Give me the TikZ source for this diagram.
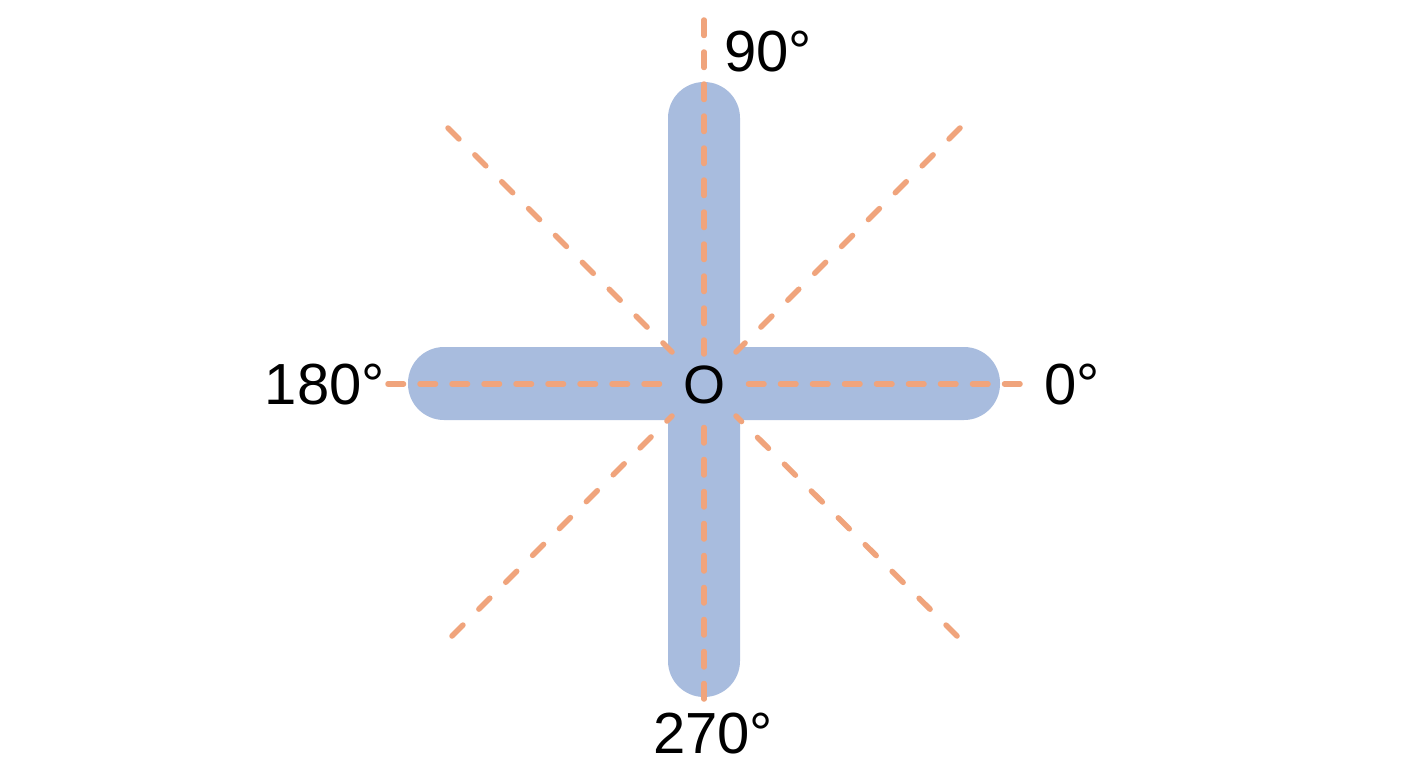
\documentclass[tikz,border=0pt]{standalone}
\usepackage{fontspec}
\setmainfont{Liberation Sans}
\definecolor{barblue}{HTML}{A8BCDE}
\definecolor{rayorange}{HTML}{F0A47C}
\begin{document}
\begin{tikzpicture}[x=1pt,y=-1pt,
  ray/.style={draw=rayorange, line width=5.5pt, line cap=round, dash pattern=on 15.5pt off 16.5pt},
  diagray/.style={ray, dash pattern=on 15.5pt off 22.5pt},
  bar/.style={fill=barblue, rounded corners=36pt},
  lbl/.style={inner sep=0pt, font=\fontsize{58}{70}\selectfont},
  olbl/.style={inner sep=0pt, font=\fontsize{54}{64}\selectfont}]
\useasboundingbox (0,0) rectangle (1408,768);
\fill[white] (0,0) rectangle (1408,768);
% bars
\path[bar] (668,82) rectangle (740,697);
\path[bar] (408,347) rectangle (1000,420);
% coordinates
\coordinate (c) at (704,384);
\coordinate (top) at (704,20);
\coordinate (topin) at (704,354);
\coordinate (bot) at (704,699);
\coordinate (botin) at (704,414);
\coordinate (lft) at (388,384);
\coordinate (lftin) at (674,384);
\coordinate (rgt) at (1020,384);
\coordinate (rgtin) at (734,384);
\coordinate (ul) at (448,128);
\coordinate (ulin) at (672,352);
\coordinate (ur) at (960,128);
\coordinate (urin) at (736,352);
\coordinate (ll) at (452,636);
\coordinate (llin) at (672,416);
\coordinate (lr) at (957,636);
\coordinate (lrin) at (736,416);
% rays
\draw[ray] (top) -- (topin);
\draw[ray] (bot) -- (botin);
\draw[ray] (lft) -- (lftin);
\draw[ray] (rgt) -- (rgtin);
\draw[diagray] (ul) -- (ulin);
\draw[diagray] (ur) -- (urin);
\draw[diagray] (ll) -- (llin);
\draw[diagray] (lr) -- (lrin);
% labels
\node[olbl, anchor=base] (o) at (704,403) {O};
\node[lbl, anchor=base west] (d90) at (724,71) {90°};
\node[lbl, anchor=base east] (d180) at (385,404) {180°};
\node[lbl, anchor=base west] (d0) at (1044,404) {0°};
\node[lbl, anchor=base] (d270) at (713,753) {270°};
\end{tikzpicture}
\end{document}
